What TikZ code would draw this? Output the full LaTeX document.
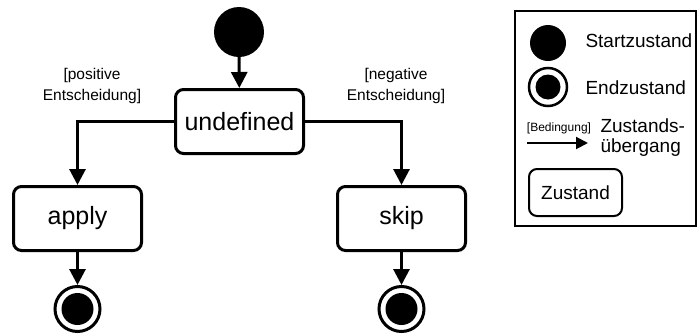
\documentclass[tikz,border=0pt]{standalone}
\usepackage{fontspec}
\setmainfont{Liberation Sans}
\usetikzlibrary{arrows.meta}

\begin{document}
\begin{tikzpicture}[x=1pt,y=-1pt,
  state/.style={draw, line width=3pt, rounded corners=8pt, fill=white,
    minimum width=128pt, minimum height=64pt, inner sep=0pt,
    font=\fontsize{25}{30}\selectfont},
  startnode/.style={circle, fill=black, inner sep=0pt, minimum size=#1},
  endnode/.style={circle, draw, line width=3pt, inner sep=0pt, minimum size=#1,
    path picture={\fill (path picture bounding box.center) circle (16pt);}},
  guard/.style={align=center, font=\fontsize{15.5}{21}\selectfont},
  flow/.style={line width=3pt, -{Triangle[length=16pt,width=16pt]}},
  legendtext/.style={anchor=west, font=\fontsize{19}{20}\selectfont},
]
\useasboundingbox (0,0) rectangle (699,335);

% main state machine
\node[startnode=50pt] (start) at (239,32) {};
\node[state] (undef) at (239.5,121.5) {undefined};
\node[state] (apply) at (77.5,218.5) {apply};
\node[state] (skip) at (401.5,218.5) {skip};
\node[endnode=45pt] (endA) at (77.5,309) {};
\node[endnode=45pt] (endS) at (401.5,309) {};

\node[guard] (pos) at (92,86) {[positive\\Entscheidung]};
\node[guard] (neg) at (396,86) {[negative\\Entscheidung]};

\draw[flow] (start) -- (undef);
\draw[flow] (undef.west) -| (apply.north);
\draw[flow] (undef.east) -| (skip.north);
\draw[flow] (apply) -- (endA);
\draw[flow] (skip) -- (endS);

% legend
\node[draw, line width=2pt, minimum width=181pt, minimum height=215pt, inner sep=0pt]
  (legend) at (605.5,118.5) {};
\node[circle, fill=black, inner sep=0pt, minimum size=36pt] (lstart) at (548,43) {};
\node[legendtext] (lstarttxt) at (582,41) {Startzustand};
\node[circle, draw, line width=2.5pt, inner sep=0pt, minimum size=38pt,
  path picture={\fill (path picture bounding box.center) circle (12.5pt);}]
  (lend) at (548,87) {};
\node[legendtext] (lendtxt) at (582,88) {Endzustand};
\node[font=\fontsize{12}{14}\selectfont] (lguard) at (559,128) {[Bedingung]};
\coordinate (la) at (527,143);
\coordinate (lb) at (588,143);
\draw[line width=2pt, -{Triangle[length=12pt,width=12pt]}] (la) -- (lb);
\node[legendtext, align=left] (ltrans) at (597,137.5) {Zustands-\\übergang};
\node[draw, line width=2pt, rounded corners=8pt, minimum width=93pt, minimum height=47pt,
  inner sep=0pt, font=\fontsize{19}{20}\selectfont] (lstate) at (575.5,192.5) {Zustand};
\end{tikzpicture}
\end{document}
